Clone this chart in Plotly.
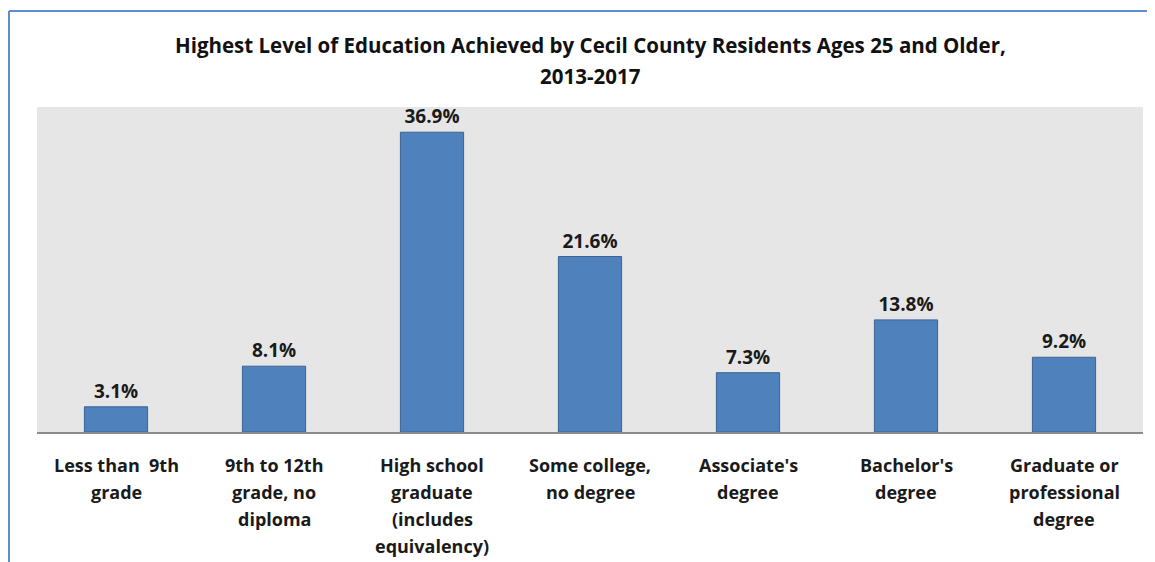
import plotly.graph_objects as go

categories = ["Less than 9th grade", "9th to 12th grade, no diploma",
              "High school graduate (includes equivalency)", "Some college, no degree",
              "Associate's degree", "Bachelor's degree", "Graduate or professional degree"]
tick_lines = [["Less than  9th", "grade"],
              ["9th to 12th", "grade, no", "diploma"],
              ["High school", "graduate", "(includes", "equivalency)"],
              ["Some college,", "no degree"],
              ["Associate's", "degree"],
              ["Bachelor's", "degree"],
              ["Graduate or", "professional", "degree"]]
values = [3.1, 8.1, 36.9, 21.6, 7.3, 13.8, 9.2]
value_labels = ["3.1%", "8.1%", "36.9%", "21.6%", "7.3%", "13.8%", "9.2%"]
title_lines = ["Highest Level of Education Achieved by Cecil County Residents Ages 25 and Older,", "2013-2017"]

FONT = "Open Sans"
# page has an 8px body margin; figure origin is at (8, 8)
W, H = 1147, 554
ml, mr, mt, mb = 29, 12, 99, 130
pw, ph = W - ml - mr, H - mt - mb

fig = go.Figure(go.Bar(
    x=categories, y=values, width=0.4,
    marker=dict(color="#4F81BD", line=dict(color="#3A6496", width=1)),
    text=value_labels, textposition="outside", cliponaxis=False,
    textfont=dict(family=FONT, size=19, color="#1a1a1a", weight="bold"),
))

annotations = []
for cat, lines in zip(categories, tick_lines):
    for i, ln in enumerate(lines):
        annotations.append(dict(x=cat, xref="x", y=0, yref="y", text=ln, showarrow=False,
                                xanchor="center", yanchor="middle", yshift=-(33 + 27 * i),
                                font=dict(family=FONT, size=18, color="#1a1a1a", weight="bold")))
for i, ln in enumerate(title_lines):
    annotations.append(dict(x=0.5, xref="paper", y=1 + (62 - 31 * i) / ph, yref="paper", text=ln,
                            showarrow=False, xanchor="center", yanchor="middle",
                            font=dict(family=FONT, size=20.5, color="#111111", weight="bold")))

fig.update_layout(
    width=W, height=H, autosize=False,
    margin=dict(l=ml, r=mr, t=mt, b=mb),
    paper_bgcolor="white", plot_bgcolor="#E6E6E6",
    showlegend=False,
    xaxis=dict(showticklabels=False, ticks="", showgrid=False, zeroline=False,
               showline=True, linecolor="#8C8C8C", linewidth=2, fixedrange=True),
    yaxis=dict(range=[0, 40], visible=False, fixedrange=True),
    annotations=annotations,
    shapes=[
        dict(type="line", xref="paper", yref="paper", x0=(1 - ml) / pw, x1=(W + 5 - ml) / pw,
             y0=1 + (mt - 3) / ph, y1=1 + (mt - 3) / ph, line=dict(color="#5B8FCF", width=2)),
        dict(type="line", xref="paper", yref="paper", x0=(1 - ml) / pw, x1=(1 - ml) / pw,
             y0=1 + (mt - 3) / ph, y1=-(mb + 5) / ph, line=dict(color="#5B8FCF", width=2)),
    ],
)

fig.write_html("out.html", config={"displayModeBar": False})
